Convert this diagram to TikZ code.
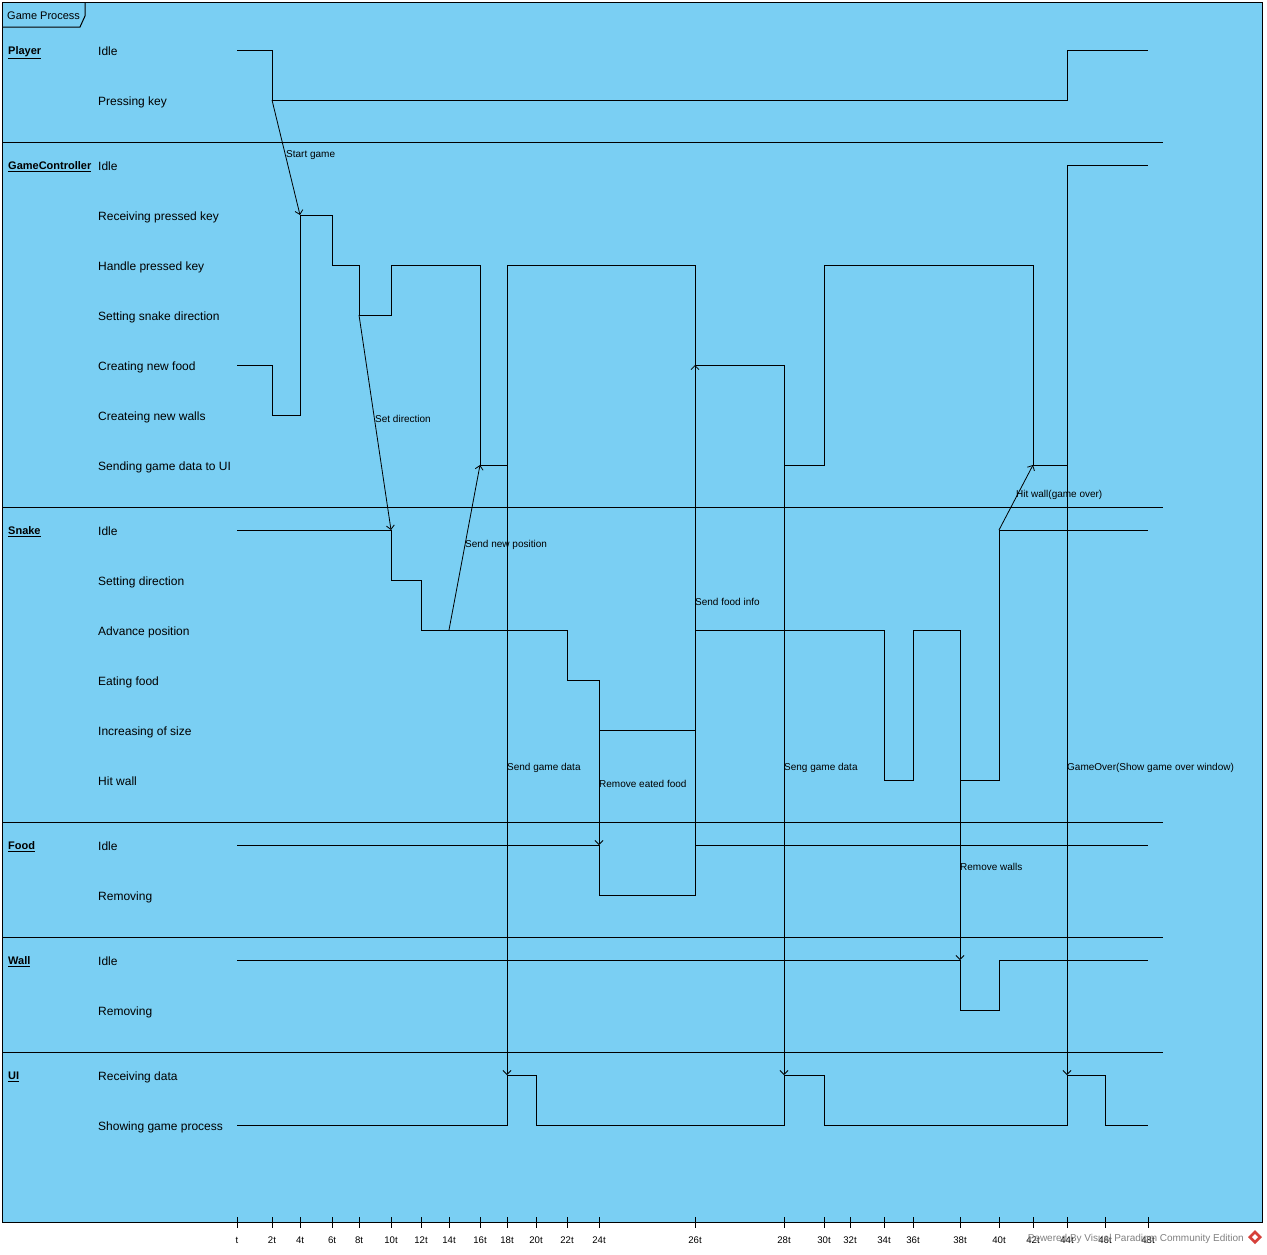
\documentclass[tikz,border=0pt]{standalone}
\usepackage{fontspec}
\setmainfont{Liberation Sans}
\usetikzlibrary{arrows.meta}
\definecolor{bg}{RGB}{122,207,243}
\definecolor{wm}{RGB}{128,128,128}
\definecolor{vpred}{RGB}{214,64,58}
\begin{document}
\begin{tikzpicture}[x=1pt,y=-1pt,
  frameline/.style={line width=1pt},
  sepline/.style={line width=1pt},
  wave/.style={line width=1pt, line join=miter},
  msg/.style={line width=0.8pt, -{Straight Barb[length=4pt,width=8pt,line width=0.8pt]}},
  lifename/.style={font=\fontsize{11}{13}\selectfont\bfseries, anchor=base west, inner sep=0pt},
  statelbl/.style={font=\fontsize{12}{14}\selectfont, anchor=base west, inner sep=0pt},
  mlabel/.style={font=\fontsize{10}{12}\selectfont, anchor=base west, inner sep=0pt},
  ticklbl/.style={font=\fontsize{9.6}{11}\selectfont, anchor=base, inner sep=0pt},
  tickmark/.style={line width=1pt}]
\useasboundingbox (0,0) rectangle (1267,1254);
\fill[white] (0,0) rectangle (1267,1254);
\fill[bg] (2,2) rectangle (1262,1222);
\draw[frameline] (2,2) rectangle (1262,1222);
% frame tab
\draw[frameline] (2,27) -- (80,27) -- (85,16) -- (85,2);
\node[font=\fontsize{11}{13}\selectfont, anchor=base west, inner sep=0pt] (title) at (7,19) {Game Process};

% lane separators
\foreach \y in {142,507,822,937,1052}
  \draw[sepline] (2,\y) -- (1163,\y);

% lifeline names
\node[lifename] (nPlayer) at (8,54.5) {\underline{Player}};
\node[lifename] (nGC) at (8,169.5) {\underline{GameController}};
\node[lifename] (nSnake) at (8,534.5) {\underline{Snake}};
\node[lifename] (nFood) at (8,849.5) {\underline{Food}};
\node[lifename] (nWall) at (8,964.5) {\underline{Wall}};
\node[lifename] (nUI) at (8,1079.5) {\underline{UI}};

% state labels
\node[statelbl] (s1) at (98,55) {Idle};
\node[statelbl] (s2) at (98,105) {Pressing key};
\node[statelbl] (s3) at (98,170) {Idle};
\node[statelbl] (s4) at (98,220) {Receiving pressed key};
\node[statelbl] (s5) at (98,270) {Handle pressed key};
\node[statelbl] (s6) at (98,320) {Setting snake direction};
\node[statelbl] (s7) at (98,370) {Creating new food};
\node[statelbl] (s8) at (98,420) {Createing new walls};
\node[statelbl] (s9) at (98,470) {Sending game data to UI};
\node[statelbl] (s10) at (98,535) {Idle};
\node[statelbl] (s11) at (98,585) {Setting direction};
\node[statelbl] (s12) at (98,635) {Advance position};
\node[statelbl] (s13) at (98,685) {Eating food};
\node[statelbl] (s14) at (98,735) {Increasing of size};
\node[statelbl] (s15) at (98,785) {Hit wall};
\node[statelbl] (s16) at (98,850) {Idle};
\node[statelbl] (s17) at (98,900) {Removing};
\node[statelbl] (s18) at (98,965) {Idle};
\node[statelbl] (s19) at (98,1015) {Removing};
\node[statelbl] (s20) at (98,1080) {Receiving data};
\node[statelbl] (s21) at (98,1130) {Showing game process};

% timelines
\draw[wave] (237,50) -- (272,50) -- (272,100) -- (1067,100) -- (1067,50) -- (1148,50);
\draw[wave] (237,365) -- (272,365) -- (272,415) -- (300,415) -- (300,215) -- (332,215)
  -- (332,265) -- (359,265) -- (359,315) -- (391,315) -- (391,265) -- (480,265)
  -- (480,465) -- (507,465) -- (507,265) -- (695,265) -- (695,365) -- (784,365)
  -- (784,465) -- (824,465) -- (824,265) -- (1033,265) -- (1033,465) -- (1067,465)
  -- (1067,165) -- (1148,165);
\draw[wave] (237,530) -- (391,530) -- (391,580) -- (421,580) -- (421,630) -- (567,630)
  -- (567,680) -- (599,680) -- (599,730) -- (695,730) -- (695,630) -- (884,630)
  -- (884,780) -- (913,780) -- (913,630) -- (960,630) -- (960,780) -- (999,780)
  -- (999,530) -- (1148,530);
\draw[wave] (237,845) -- (599,845) -- (599,895) -- (695,895) -- (695,845) -- (1148,845);
\draw[wave] (237,960) -- (960,960) -- (960,1010) -- (999,1010) -- (999,960) -- (1148,960);
\draw[wave] (237,1125) -- (507,1125) -- (507,1075) -- (536,1075) -- (536,1125) -- (784,1125)
  -- (784,1075) -- (824,1075) -- (824,1125) -- (1067,1125) -- (1067,1075) -- (1105,1075)
  -- (1105,1125) -- (1148,1125);

% message end points
\coordinate (m1a) at (272,100);  \coordinate (m1b) at (300,215);
\coordinate (m2a) at (359,315);  \coordinate (m2b) at (391,530);
\coordinate (m3a) at (449,630);  \coordinate (m3b) at (480,465);
\coordinate (m4a) at (507,465);  \coordinate (m4b) at (507,1075);
\coordinate (m5a) at (599,730);  \coordinate (m5b) at (599,845);
\coordinate (m6a) at (695,845);  \coordinate (m6b) at (695,365);
\coordinate (m7a) at (784,465);  \coordinate (m7b) at (784,1075);
\coordinate (m8a) at (960,780);  \coordinate (m8b) at (960,960);
\coordinate (m9a) at (999,530);  \coordinate (m9b) at (1033,465);
\coordinate (m10a) at (1067,465); \coordinate (m10b) at (1067,1075);

\draw[msg] (m1a) -- (m1b);
\draw[msg] (m2a) -- (m2b);
\draw[msg] (m3a) -- (m3b);
\draw[msg] (m4a) -- (m4b);
\draw[msg] (m5a) -- (m5b);
\draw[msg] (m6a) -- (m6b);
\draw[msg] (m7a) -- (m7b);
\draw[msg] (m8a) -- (m8b);
\draw[msg] (m9a) -- (m9b);
\draw[msg] (m10a) -- (m10b);

% message labels
\node[mlabel] (l1) at (286,157) {Start game};
\node[mlabel] (l2) at (375,422) {Set direction};
\node[mlabel] (l3) at (465,547) {Send new position};
\node[mlabel] (l4) at (507,770) {Send game data};
\node[mlabel] (l5) at (599,787) {Remove eated food};
\node[mlabel] (l6) at (695,605) {Send food info};
\node[mlabel] (l7) at (784,770) {Seng game data};
\node[mlabel] (l8) at (960,870) {Remove walls};
\node[mlabel] (l9) at (1016,497) {Hit wall(game over)};
\node[mlabel] (l10) at (1067,770) {GameOver(Show game over window)};

% time axis ticks
\foreach \x/\t in {237/t,272/2t,300/4t,332/6t,359/8t,391/10t,421/12t,449/14t,480/16t,507/18t,
  536/20t,567/22t,599/24t,695/26t,784/28t,824/30t,850/32t,884/34t,913/36t,960/38t,
  999/40t,1033/42t,1067/44t,1105/46t,1148/48t} {
  \draw[tickmark] (\x,1217) -- (\x,1228);
  \node[ticklbl] at (\x,1243) {\t};
}

% watermark
\node[font=\fontsize{10}{12}\selectfont, text=wm, anchor=base east, inner sep=0pt] (wmark) at (1244,1241) {Powered By Visual Paradigm Community Edition};
\fill[vpred] (1255,1230) -- (1262,1237) -- (1255,1244) -- (1248,1237) -- cycle;
\fill[white] (1255,1234) -- (1258,1237) -- (1255,1240) -- (1252,1237) -- cycle;
\end{tikzpicture}
\end{document}
